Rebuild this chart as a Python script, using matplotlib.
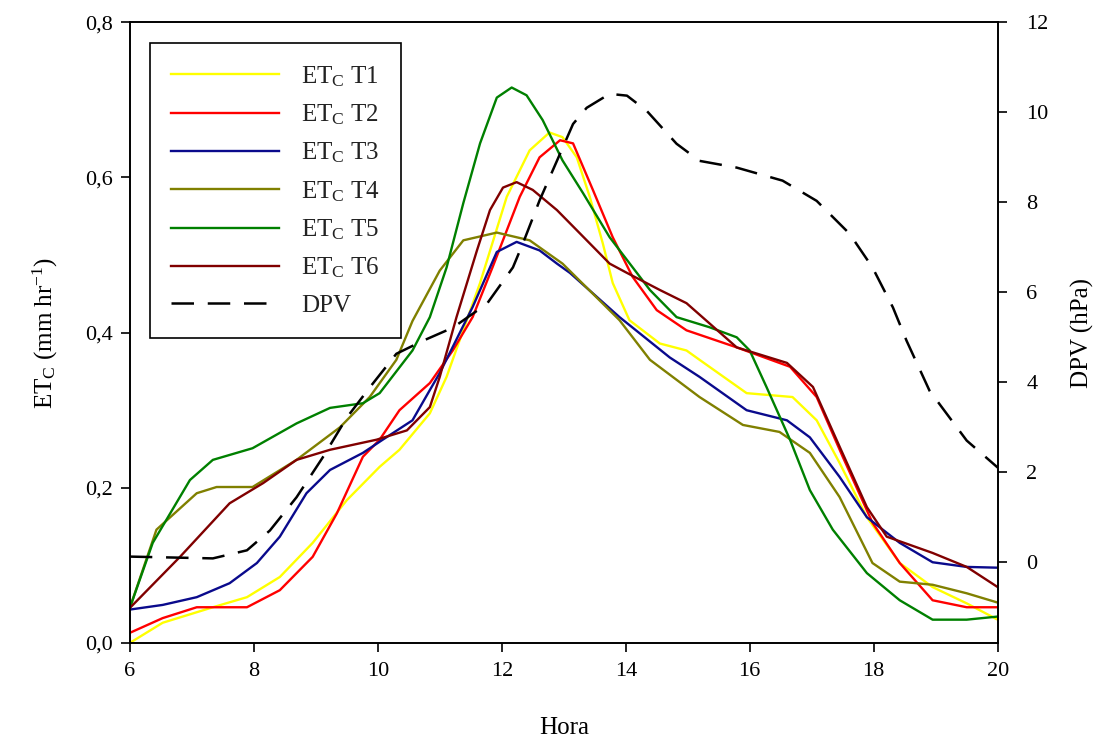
import matplotlib
matplotlib.use("Agg")
import matplotlib.pyplot as plt
from matplotlib.ticker import FixedLocator, FixedFormatter

plt.rcParams['font.family'] = ['Liberation Serif', 'DejaVu Serif']
plt.rcParams['mathtext.fontset'] = 'custom'
plt.rcParams['mathtext.rm'] = 'Liberation Serif'
plt.rcParams['mathtext.it'] = 'Liberation Serif'
plt.rcParams['mathtext.bf'] = 'Liberation Serif:bold'

# ---- data ----
h_t1 = [6.0, 6.53, 7.34, 7.89, 8.42, 8.95, 9.5, 10.03, 10.35, 10.84, 11.11, 11.65, 12.08, 12.45, 12.77,
        12.98, 13.21, 13.42, 13.63, 13.79, 14.06, 14.55, 14.98, 15.19, 15.95, 16.69, 17.08, 17.45, 17.89,
        18.42, 18.95, 19.5, 20.0]
et_t1 = [0.0, 0.026, 0.046, 0.059, 0.085, 0.129, 0.184, 0.227, 0.249, 0.296, 0.343, 0.464, 0.575, 0.635, 0.658,
         0.652, 0.626, 0.575, 0.515, 0.464, 0.416, 0.386, 0.377, 0.365, 0.322, 0.317, 0.287, 0.232, 0.162,
         0.103, 0.072, 0.051, 0.03]

h_t2 = [6.0, 6.53, 7.08, 7.89, 8.42, 8.95, 9.34, 9.76, 10.03, 10.35, 10.84, 11.21, 11.53, 11.85, 12.29,
        12.61, 12.94, 13.15, 13.47, 13.79, 14.11, 14.5, 14.98, 15.79, 16.65, 17.08, 17.5, 17.98, 18.42,
        18.95, 19.5, 20.0]
et_t2 = [0.013, 0.032, 0.046, 0.046, 0.068, 0.111, 0.167, 0.24, 0.262, 0.30, 0.335, 0.377, 0.42, 0.484, 0.575,
         0.626, 0.648, 0.644, 0.584, 0.523, 0.472, 0.429, 0.403, 0.381, 0.356, 0.317, 0.24, 0.155, 0.103,
         0.055, 0.046, 0.046]

h_t3 = [6.0, 6.53, 7.08, 7.61, 8.05, 8.42, 8.85, 9.23, 9.76, 10.08, 10.56, 10.84, 11.0, 11.53, 11.92,
        12.24, 12.61, 12.89, 13.1, 13.9, 14.71, 15.19, 15.95, 16.6, 16.97, 17.45, 17.89, 18.42, 18.95,
        19.5, 20.0]
et_t3 = [0.043, 0.049, 0.059, 0.077, 0.103, 0.137, 0.193, 0.223, 0.245, 0.262, 0.287, 0.326, 0.348, 0.433, 0.504,
         0.517, 0.506, 0.489, 0.477, 0.42, 0.368, 0.343, 0.3, 0.287, 0.265, 0.214, 0.162, 0.129, 0.104,
         0.098, 0.097]

h_t4 = [6.0, 6.43, 7.08, 7.4, 7.98, 8.69, 9.39, 9.87, 10.3, 10.56, 11.0, 11.38, 11.92, 12.45, 12.98,
        13.9, 14.39, 15.19, 15.89, 16.48, 16.97, 17.45, 17.98, 18.42, 18.95, 19.5, 20.0]
et_t4 = [0.045, 0.146, 0.193, 0.201, 0.201, 0.236, 0.278, 0.317, 0.365, 0.415, 0.48, 0.519, 0.529, 0.519, 0.489,
         0.416, 0.365, 0.317, 0.281, 0.272, 0.245, 0.188, 0.103, 0.079, 0.075, 0.064, 0.052]

h_t5 = [6.0, 6.37, 6.97, 7.34, 7.98, 8.69, 9.23, 9.76, 10.03, 10.56, 10.84, 11.11, 11.38, 11.65, 11.92,
        12.16, 12.4, 12.66, 12.98, 13.31, 13.74, 14.39, 14.82, 15.35, 15.79, 16.0, 16.27, 16.65, 16.97,
        17.34, 17.89, 18.42, 18.95, 19.5, 20.0]
et_t5 = [0.045, 0.129, 0.21, 0.236, 0.251, 0.283, 0.303, 0.309, 0.322, 0.377, 0.42, 0.484, 0.567, 0.644, 0.703,
         0.716, 0.706, 0.674, 0.622, 0.58, 0.523, 0.455, 0.42, 0.407, 0.394, 0.377, 0.33, 0.262, 0.197,
         0.146, 0.09, 0.055, 0.03, 0.03, 0.034]

h_t6 = [6.0, 6.81, 7.61, 8.15, 8.69, 9.23, 9.98, 10.47, 10.84, 11.0, 11.27, 11.6, 11.81, 12.02, 12.24,
        12.5, 12.89, 13.26, 13.74, 14.02, 14.55, 14.98, 15.35, 15.79, 16.6, 17.02, 17.45, 17.89, 18.21,
        18.95, 19.5, 20.0]
et_t6 = [0.045, 0.111, 0.18, 0.206, 0.236, 0.249, 0.262, 0.274, 0.304, 0.343, 0.42, 0.506, 0.558, 0.587, 0.594,
         0.584, 0.558, 0.528, 0.489, 0.477, 0.455, 0.438, 0.412, 0.381, 0.361, 0.33, 0.253, 0.175, 0.137,
         0.116, 0.098, 0.072]

h_dpv = [6.0, 7.34, 7.89, 8.26, 8.69, 9.11, 9.5, 9.87, 10.3, 10.73, 11.21, 11.76, 12.18, 12.34, 12.61,
         12.89, 13.15, 13.37, 13.74, 14.02, 14.34, 14.82, 15.19, 15.79, 16.53, 17.08, 17.61, 17.98, 18.31,
         18.53, 18.9, 19.5, 20.0]
dpv = [0.12, 0.08, 0.26, 0.7, 1.44, 2.32, 3.21, 3.88, 4.63, 4.92, 5.21, 5.74, 6.55, 7.08, 8.04,
       8.92, 9.74, 10.1, 10.41, 10.37, 10.03, 9.3, 8.92, 8.77, 8.48, 8.03, 7.3, 6.55, 5.66,
       4.92, 3.81, 2.7, 2.1]

series_labels = ['ET$_\\mathrm{C}$ T1', 'ET$_\\mathrm{C}$ T2', 'ET$_\\mathrm{C}$ T3',
                 'ET$_\\mathrm{C}$ T4', 'ET$_\\mathrm{C}$ T5', 'ET$_\\mathrm{C}$ T6']
dpv_label = 'DPV'

x_ticks = [6, 8, 10, 12, 14, 16, 18, 20]
y_ticks = [0.0, 0.2, 0.4, 0.6, 0.8]
y_tick_labels = ['0,0', '0,2', '0,4', '0,6', '0,8']
y2_ticks = [0, 2, 4, 6, 8, 10, 12]

colors = ['#ffff00', '#ff0000', '#0a0a8c', '#808000', '#008000', '#800000']

# ---- figure ----
fig = plt.figure(figsize=(11, 7.45), dpi=100)
ax = fig.add_axes([0.118, 0.137, 0.789, 0.833])
ax2 = ax.twinx()

handles = []
for hx, yv, c, lab in zip([h_t1, h_t2, h_t3, h_t4, h_t5, h_t6],
                          [et_t1, et_t2, et_t3, et_t4, et_t5, et_t6], colors, series_labels):
    ln, = ax.plot(hx, yv, color=c, lw=1.7, label=lab)
    handles.append(ln)

ln_d, = ax2.plot(h_dpv, dpv, color='black', lw=1.8, linestyle=(0, (9, 5.5)), label=dpv_label)
handles.append(ln_d)

ax.set_xlim(6, 20)
ax.set_ylim(0, 0.8)
ax2.set_ylim(-1.8, 12)

ax.xaxis.set_major_locator(FixedLocator(x_ticks))
ax.yaxis.set_major_locator(FixedLocator(y_ticks))
ax.yaxis.set_major_formatter(FixedFormatter(y_tick_labels))
ax2.yaxis.set_major_locator(FixedLocator(y2_ticks))

for a in (ax, ax2):
    a.tick_params(direction='out', length=6.5, width=1.2, labelsize=16, colors='black')
    for s in a.spines.values():
        s.set_linewidth(1.2)
ax.tick_params(axis='x', pad=7)
ax.tick_params(axis='y', pad=6)
ax2.tick_params(axis='y', pad=14)

ax.set_xlabel('Hora', fontsize=18, labelpad=26)
ax.set_ylabel('ET$_\\mathrm{C}$ (mm hr$^{-1}$)', fontsize=18, labelpad=18)
ax2.set_ylabel('DPV (hPa)', fontsize=18, labelpad=16)

leg = ax2.legend(handles=handles, loc='upper left', bbox_to_anchor=(0.023, 0.967),
                 fontsize=18, frameon=True, fancybox=False, framealpha=1, edgecolor='black',
                 handlelength=4.3, handletextpad=0.9, labelspacing=0.55, borderpad=0.85,
                 borderaxespad=0)
leg.get_frame().set_linewidth(1.2)
for t in leg.get_texts():
    t.set_color('#222222')

fig.savefig('out.png', dpi=100)
